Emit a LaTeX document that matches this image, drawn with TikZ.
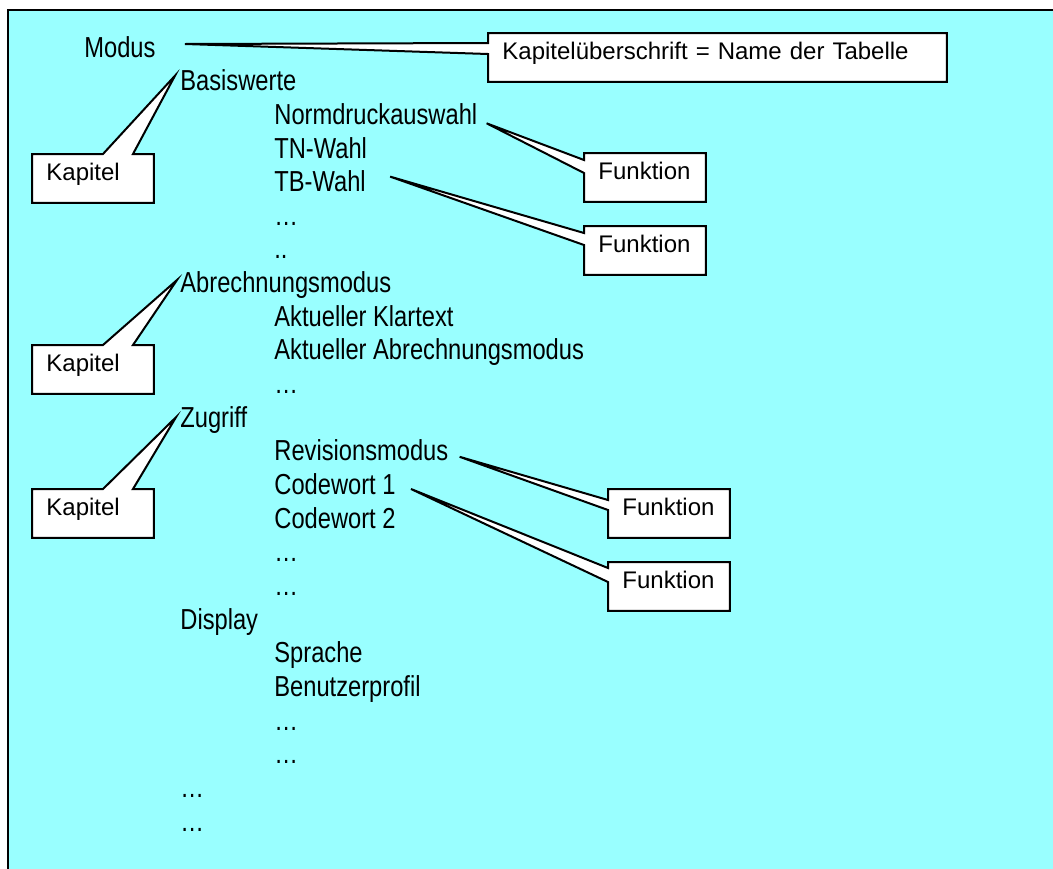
\documentclass[tikz,border=0pt]{standalone}
\usepackage{fontspec}
\setmainfont{Liberation Sans}
\newfontfamily\narrowfont[FakeStretch=0.82]{Liberation Sans}
\pgfdeclarelayer{backdrop}
\pgfdeclarelayer{behind}
\pgfsetlayers{backdrop,behind,main}
\definecolor{paleaqua}{RGB}{153,255,255}
\begin{document}
\begin{tikzpicture}[x=0.5pt,y=-0.5pt,
  entry/.style={anchor=base west,inner sep=0pt,font=\narrowfont\fontsize{14.45}{17}\selectfont},
  notebox/.style={anchor=north west,inner xsep=7pt,inner ysep=2.5pt,text height=10.5pt,
    text depth=8.5pt,text width=46.5pt,align=left,font=\fontsize{12}{14}\selectfont},
  bubble/.style={draw=black,fill=white,line width=1pt,line join=miter}]
\useasboundingbox (0,0) rectangle (1053,868);
\begin{pgfonlayer}{backdrop}
\draw[fill=paleaqua,line width=1pt] (8,10) rectangle (1070,890);
\end{pgfonlayer}

% the tree of chapters and functions
\node (modus) [entry] at (84,57) {Modus};
\node (basis) [entry] at (180,90.7) {Basiswerte};
\node (normdruck) [entry] at (274,124.3) {Normdruckauswahl};
\node (tnwahl) [entry] at (274,158) {TN-Wahl};
\node (tbwahl) [entry] at (274,191.6) {TB-Wahl};
\node (dotsa) [entry] at (274,225.3) {…};
\node (dotsb) [entry] at (274,258.9) {..};
\node (abrechnung) [entry] at (180,292.6) {Abrechnungsmodus};
\node (klartext) [entry] at (274,326.2) {Aktueller Klartext};
\node (abrmodus) [entry] at (274,359.9) {Aktueller Abrechnungsmodus};
\node (dotsc) [entry] at (274,393.5) {…};
\node (zugriff) [entry] at (180,427.2) {Zugriff};
\node (revision) [entry] at (274,460.8) {Revisionsmodus};
\node (codea) [entry] at (274,494.5) {Codewort 1};
\node (codeb) [entry] at (274,528.1) {Codewort 2};
\node (dotsd) [entry] at (274,561.8) {…};
\node (dotse) [entry] at (274,595.4) {…};
\node (display) [entry] at (180,629.1) {Display};
\node (sprache) [entry] at (274,662.7) {Sprache};
\node (profil) [entry] at (274,696.4) {Benutzerprofil};
\node (dotsf) [entry] at (274,730) {…};
\node (dotsg) [entry] at (274,763.7) {…};
\node (dotsh) [entry] at (180,797.3) {…};
\node (dotsi) [entry] at (180,831) {…};

% callout boxes
\node (tabname) [notebox,text width=215pt] at (488,33) {Kapitelüberschrift = Name der Tabelle};
\node (kapbasis) [notebox] at (32,154) {Kapitel};
\node (kapabr) [notebox] at (32,345) {Kapitel};
\node (kapzugriff) [notebox] at (32,489) {Kapitel};
\node (fktnorm) [notebox] at (584,153) {Funktion};
\node (fkttb) [notebox] at (584,226) {Funktion};
\node (fktrev) [notebox] at (608,489) {Funktion};
\node (fktcode) [notebox] at (608,562) {Funktion};

% outlines with pointers
\begin{pgfonlayer}{behind}
\draw[bubble] (tabname.north west) -- (tabname.north east) -- (tabname.south east)
  -- (tabname.south west) -- ([shift={(0,21)}]tabname.north west)
  -- ([shift={(29,-13)}]modus.base east) -- ([shift={(0,10)}]tabname.north west) -- cycle;

\draw[bubble] (kapbasis.north west) -- ([shift={(71,0)}]kapbasis.north west)
  -- ([shift={(-5,-15)}]basis.base west) -- ([shift={(101,0)}]kapbasis.north west)
  -- (kapbasis.north east) -- (kapbasis.south east) -- (kapbasis.south west) -- cycle;
\draw[bubble] (kapabr.north west) -- ([shift={(71,0)}]kapabr.north west)
  -- ([shift={(-3,-12.6)}]abrechnung.base west) -- ([shift={(101,0)}]kapabr.north west)
  -- (kapabr.north east) -- (kapabr.south east) -- (kapabr.south west) -- cycle;
\draw[bubble] (kapzugriff.north west) -- ([shift={(71,0)}]kapzugriff.north west)
  -- ([shift={(-4,-10)}]zugriff.base west) -- ([shift={(101,0)}]kapzugriff.north west)
  -- (kapzugriff.north east) -- (kapzugriff.south east) -- (kapzugriff.south west) -- cycle;

\draw[bubble] (fktnorm.north west) -- (fktnorm.north east) -- (fktnorm.south east)
  -- (fktnorm.south west) -- ([shift={(0,20)}]fktnorm.north west)
  -- ([shift={(9,-1)}]normdruck.base east) -- ([shift={(0,7)}]fktnorm.north west) -- cycle;
\draw[bubble] (fkttb.north west) -- (fkttb.north east) -- (fkttb.south east)
  -- (fkttb.south west) -- ([shift={(0,19)}]fkttb.north west)
  -- ([shift={(24,-15)}]tbwahl.base east) -- ([shift={(0,7)}]fkttb.north west) -- cycle;
\draw[bubble] (fktrev.north west) -- (fktrev.north east) -- (fktrev.south east)
  -- (fktrev.south west) -- ([shift={(0,21)}]fktrev.north west)
  -- ([shift={(11,-4)}]revision.base east) -- ([shift={(0,11)}]fktrev.north west) -- cycle;
\draw[bubble] (fktcode.north west) -- (fktcode.north east) -- (fktcode.south east)
  -- (fktcode.south west) -- ([shift={(0,20)}]fktcode.north west)
  -- ([shift={(15,-5.5)}]codea.base east) -- ([shift={(0,6)}]fktcode.north west) -- cycle;
\end{pgfonlayer}
\end{tikzpicture}
\end{document}
